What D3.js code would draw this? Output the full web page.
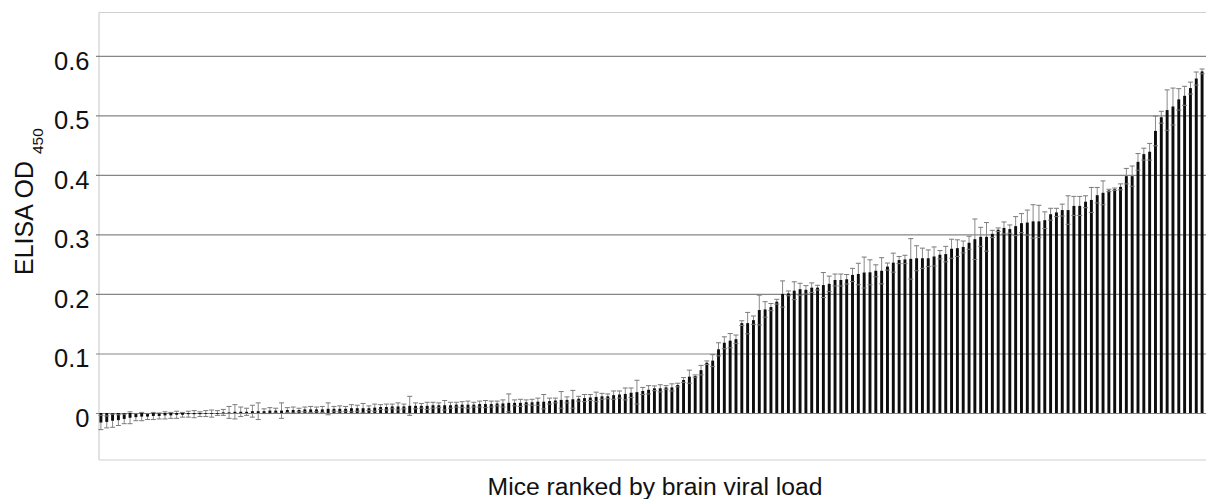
<!DOCTYPE html>
<html>
<head>
<meta charset="utf-8">
<script src="https://cdn.jsdelivr.net/npm/d3@7"></script>
<style>
  html, body { margin: 0; padding: 0; background: #fff; }
  svg { display: block; }
  text { font-family: "Liberation Sans", Arial, Helvetica, sans-serif; fill: #111; }
</style>
</head>
<body>
<svg id="chart" width="1206" height="499"></svg>
<script>
// ---- data ----
const mice = d3.range(1, 191); // rank of each mouse by brain viral load

const odMeans = [
  -0.016, -0.015, -0.013, -0.012, -0.010, -0.008, -0.007, -0.006, -0.006, -0.005,
  -0.005, -0.004, -0.004, -0.003, -0.003, -0.002, -0.002, -0.002, -0.001, -0.001,
   0.000,  0.001,  0.001,  0.002,  0.002,  0.002,  0.003,  0.003,  0.003,  0.004,
   0.004,  0.004,  0.005,  0.005,  0.005,  0.006,  0.006,  0.006,  0.006,  0.007,
   0.007,  0.007,  0.007,  0.008,  0.008,  0.008,  0.008,  0.009,
   0.010,  0.010,  0.011,  0.011,  0.011,  0.012,  0.012,  0.012,  0.012,  0.013,
   0.013,  0.013,  0.013,  0.014,  0.014,  0.014,  0.014,  0.015,  0.015,  0.015,
   0.016,  0.016,  0.017,  0.017,  0.017,  0.018,  0.018,  0.019,  0.019,  0.020,
   0.021,  0.022,  0.022,  0.023,  0.024,  0.025,  0.026,  0.027,  0.028,  0.028,
   0.030,  0.031,  0.032,  0.034,  0.035,  0.037,  0.039,
   0.0415, 0.0415, 0.043, 0.043, 0.047, 0.0555, 0.061, 0.062, 0.072, 0.0845,
   0.088,  0.107,  0.118, 0.1215, 0.124, 0.151, 0.151, 0.156, 0.173, 0.174,
   0.178,  0.187,  0.200, 0.201, 0.2055, 0.208, 0.207, 0.2106, 0.2106, 0.215,
   0.217,  0.2235, 0.2235, 0.2247, 0.232, 0.2336, 0.236, 0.2364, 0.239, 0.239,
   0.246,  0.2526, 0.257, 0.258, 0.259, 0.260, 0.260,
   0.260,  0.263,  0.266, 0.267, 0.276, 0.277, 0.279, 0.286, 0.292, 0.296,
   0.296,  0.301,  0.308, 0.311, 0.309, 0.314, 0.319, 0.320, 0.322, 0.322,
   0.324,  0.334,  0.337, 0.341, 0.341, 0.348, 0.348, 0.355, 0.358, 0.366,
   0.370,  0.374,  0.376, 0.380, 0.398, 0.398, 0.422, 0.435, 0.439, 0.474,
   0.497,  0.509,  0.515, 0.527, 0.533, 0.546, 0.562, 0.574
];

const odErrors = [
  0.012, 0.010, 0.011, 0.009, 0.008, 0.010, 0.006, 0.007, 0.005, 0.006,
  0.005, 0.006, 0.005, 0.006, 0.004, 0.005, 0.006, 0.004, 0.005, 0.006,
  0.004, 0.005, 0.010, 0.012, 0.008, 0.006, 0.010, 0.014, 0.004, 0.005,
  0.004, 0.013, 0.004, 0.005, 0.003, 0.004, 0.005, 0.004, 0.005, 0.010,
  0.004, 0.005, 0.004, 0.006, 0.005, 0.008, 0.004, 0.006,
  0.004, 0.005, 0.004, 0.006, 0.004, 0.016, 0.005, 0.004, 0.006, 0.005,
  0.004, 0.008, 0.005, 0.004, 0.005, 0.006, 0.004, 0.005, 0.006, 0.005,
  0.004, 0.006, 0.015, 0.005, 0.006, 0.004, 0.005, 0.006, 0.012, 0.005,
  0.004, 0.014, 0.005, 0.015, 0.004, 0.006, 0.005, 0.008, 0.005, 0.004,
  0.007, 0.006, 0.010, 0.008, 0.020, 0.006, 0.007,
  0.004, 0.006, 0.003, 0.006, 0.003, 0.004, 0.011, 0.002, 0.008, 0.003,
  0.010, 0.011, 0.010, 0.012, 0.007, 0.004, 0.018, 0.007, 0.025, 0.013,
  0.006, 0.004, 0.022, 0.004, 0.015, 0.010, 0.007, 0.008, 0.004, 0.021,
  0.013, 0.010, 0.010, 0.008, 0.011, 0.018, 0.026, 0.021, 0.010, 0.022,
  0.006, 0.016, 0.006, 0.007, 0.034, 0.021, 0.017,
  0.014, 0.016, 0.007, 0.013, 0.016, 0.014, 0.010, 0.011, 0.034, 0.016,
  0.024, 0.006, 0.003, 0.010, 0.007, 0.016, 0.016, 0.021, 0.028, 0.027,
  0.014, 0.010, 0.007, 0.010, 0.024, 0.016, 0.016, 0.010, 0.021, 0.013,
  0.020, 0.002, 0.002, 0.005, 0.013, 0.017, 0.014, 0.010, 0.014, 0.025,
  0.010, 0.034, 0.031, 0.018, 0.016, 0.010, 0.011, 0.004
];

const yTicks = [0, 0.1, 0.2, 0.3, 0.4, 0.5, 0.6];
const yTickLabels = ["0", "0.1", "0.2", "0.3", "0.4", "0.5", "0.6"];
const yTitle = "ELISA OD ";
const yTitleSub = "450";
const xTitle = "Mice ranked by brain viral load";

// ---- layout ----
const plot = { left: 99, right: 1206, top: 12.5, bottom: 460 };

const svg = d3.select("#chart");

const x = d3.scaleBand()
  .domain(mice)
  .range([98, 1205])
  .paddingInner(0.5)
  .paddingOuter(0.25);

const y = d3.scaleLinear()
  .domain([-0.079, 0.673])
  .range([plot.bottom, plot.top]);

const data = mice.map((m, i) => ({ m, v: odMeans[i], e: odErrors[i] }));

// frame (light gray)
const frame = svg.append("g").attr("stroke", "#cfcfcf").attr("stroke-width", 1.2);
frame.append("line").attr("x1", plot.left).attr("x2", plot.right).attr("y1", plot.top).attr("y2", plot.top);
frame.append("line").attr("x1", plot.left).attr("x2", plot.right).attr("y1", plot.bottom).attr("y2", plot.bottom);
frame.append("line").attr("x1", plot.left).attr("x2", plot.left).attr("y1", plot.top).attr("y2", plot.bottom);

// y axis with gridlines
const yAxis = d3.axisLeft(y)
  .tickValues(yTicks)
  .tickFormat((d, i) => yTickLabels[i])
  .tickSizeInner(-(plot.right - 96))
  .tickSizeOuter(0)
  .tickPadding(6.5);

const ag = svg.append("g")
  .attr("transform", "translate(96,0)")
  .call(yAxis);
ag.select(".domain").remove();
ag.selectAll(".tick line").attr("stroke", "#858585").attr("stroke-width", 1.2);
ag.selectAll(".tick text")
  .attr("font-size", 25.5)
  .attr("dy", "0.52em")
  .attr("fill", "#111")
  .style("font-family", "'Liberation Sans', Arial, Helvetica, sans-serif");

// error whiskers (behind bars)
const cx = d => x(d.m) + x.bandwidth() / 2;
const eg = svg.append("g").attr("stroke", "#8a8a8a").attr("stroke-width", 1);
eg.selectAll("line.w").data(data).join("line")
  .attr("class", "w")
  .attr("x1", cx).attr("x2", cx)
  .attr("y1", d => y(d.v - d.e)).attr("y2", d => y(d.v + d.e));

// bars
svg.append("g").selectAll("rect").data(data).join("rect")
  .attr("x", d => x(d.m))
  .attr("width", x.bandwidth())
  .attr("y", d => Math.min(y(d.v), y(0)))
  .attr("height", d => Math.max(0.8, Math.abs(y(d.v) - y(0))))
  .attr("fill", "#0d0d0d");

// caps
const cg = svg.append("g").attr("stroke", "#7a7a7a").attr("stroke-width", 1);
cg.selectAll("line.top").data(data).join("line")
  .attr("class", "top")
  .attr("x1", d => cx(d) - 2.5).attr("x2", d => cx(d) + 2.5)
  .attr("y1", d => y(d.v + d.e)).attr("y2", d => y(d.v + d.e));
cg.selectAll("line.bot").data(data).join("line")
  .attr("class", "bot")
  .attr("x1", d => cx(d) - 2.5).attr("x2", d => cx(d) + 2.5)
  .attr("y1", d => y(d.v - d.e)).attr("y2", d => y(d.v - d.e));

// axis titles
const yt = svg.append("text")
  .attr("transform", "translate(33,275) rotate(-90)")
  .attr("font-size", 25)
  .attr("text-anchor", "start");
yt.append("tspan").text(yTitle);
yt.append("tspan").attr("font-size", 15.5).attr("dy", 10).text(yTitleSub);

svg.append("text")
  .attr("x", 655)
  .attr("y", 495)
  .attr("font-size", 24.7)
  .attr("text-anchor", "middle")
  .text(xTitle);
</script>
</body>
</html>
